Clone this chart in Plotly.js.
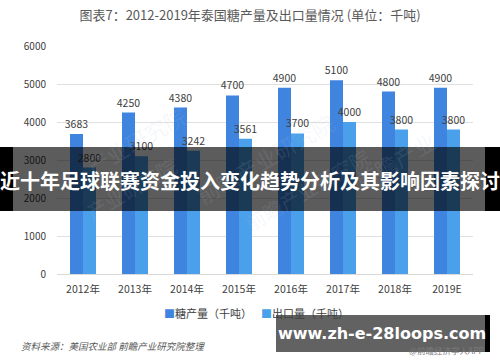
<!DOCTYPE html>
<html><head><meta charset="utf-8">
<script src="https://cdn.plot.ly/plotly-3.0.1.min.js"></script>
<style>html,body{margin:0;padding:0;background:#fff;}#chart{width:500px;height:362px;}</style>
</head><body><div id="chart"></div>
<script>
const categories = ["2012年","2013年","2014年","2015年","2016年","2017年","2018年","2019E"];
const sugarOutput = [3683,4250,4380,4700,4900,5100,4800,4900];
const exportVolume = [2800,3100,3242,3561,3700,4000,3800,3800];
const seriesNames = ["糖产量（千吨）","出口量（千吨）"];
const yTicks = [0,1000,2000,3000,4000,5000,6000];
const colors = ['#3f85e0','#4aa0ea'];

const F = '"Noto Sans CJK SC", "Microsoft YaHei", sans-serif';
const traces = [
  {type:'bar', name:seriesNames[0], x:categories, y:sugarOutput, text:sugarOutput.map(String),
   textposition:'outside', constraintext:'none', cliponaxis:false, textfont:{family:F,size:10.5,color:'#404040'},
   marker:{color:colors[0]}},
  {type:'bar', name:seriesNames[1], x:categories, y:exportVolume, text:exportVolume.map(String),
   textposition:'outside', constraintext:'none', cliponaxis:false, textfont:{family:F,size:10.5,color:'#404040'},
   marker:{color:colors[1]}}
];
const px = v => (v-57)/416, py = v => (274-v)/228;
const wm = (x,y,t,s)=>({xref:'paper',yref:'paper',x:x,y:y,text:t,showarrow:false,textangle:-30,
  font:{family:F,size:s,color:'rgba(180,195,215,0.13)'}});
const layout = {
  width:500, height:362, paper_bgcolor:'#fff', plot_bgcolor:'#fff',
  margin:{l:57,r:27,t:46,b:88},
  font:{family:F,color:'#595959'},
  title:{text:'图表7：2012-2019年泰国糖产量及出口量情况 (单位：千吨)', x:0.5, xanchor:'center', y:0.958, yanchor:'middle',
         font:{family:F,size:13,color:'#595959'}},
  barmode:'group', bargap:0.5, bargroupgap:0,
  xaxis:{type:'category', showgrid:false, showline:true, linecolor:'#d9d9d9', linewidth:1, ticks:'',
         tickfont:{family:F,size:10.5,color:'#404040'}, ticklabelstandoff:5},
  yaxis:{range:[0,6000], tickvals:yTicks, showgrid:true, gridcolor:'#e0e0e0', zeroline:false, showline:false,
         tickfont:{family:F,size:10,color:'#404040'}, ticklabelstandoff:10},
  showlegend:false,
  shapes:[
    {type:'rect',xref:'paper',yref:'paper',x0:px(0),x1:px(500),y0:py(211),y1:py(147),
     fillcolor:'rgba(0,0,0,0.64)',line:{width:0},layer:'above'},
    {type:'rect',xref:'paper',yref:'paper',x0:px(0),x1:px(13),y0:py(211),y1:py(147),
     fillcolor:'#000',line:{width:0},layer:'above'},
    {type:'rect',xref:'paper',yref:'paper',x0:px(485),x1:px(500),y0:py(211),y1:py(147),
     fillcolor:'#000',line:{width:0},layer:'above'},
    {type:'rect',xref:'paper',yref:'paper',x0:px(276),x1:px(485),y0:py(352),y1:py(315),
     fillcolor:'rgba(70,70,70,0.85)',line:{width:0},layer:'above'},
    {type:'rect',xref:'paper',yref:'paper',x0:px(485),x1:px(490),y0:py(352),y1:py(315),
     fillcolor:'#000',line:{width:0},layer:'above'}
  ],
  annotations:[
    wm(0.05,0.78,'产业研究院',22), wm(0.5,0.75,'前瞻产业研究院',22), wm(0.93,0.5,'前瞻产业',22),
    wm(0.05,0.2,'产业研究院',20), wm(0.6,0.15,'前瞻产业研究院',20),
    {xref:'paper',yref:'paper',x:px(162),y:py(313),xanchor:'left',yanchor:'middle',showarrow:false,
     text:'<span style="color:'+colors[0]+'">■</span>'+seriesNames[0],font:{family:F,size:11,color:'#404040'}},
    {xref:'paper',yref:'paper',x:px(259),y:py(313),xanchor:'left',yanchor:'middle',showarrow:false,
     text:'<span style="color:'+colors[1]+'">■</span>'+seriesNames[1],font:{family:F,size:11,color:'#404040'}},
    {xref:'paper',yref:'paper',x:px(19),y:py(346),xanchor:'left',yanchor:'middle',showarrow:false,
     text:'<i>资料来源：美国农业部 前瞻产业研究院整理</i>',font:{family:F,size:9.5,color:'#595959'}},
    {xref:'paper',yref:'paper',x:px(486),y:py(350),xanchor:'right',yanchor:'middle',showarrow:false,
     text:'@前瞻经济学人APP',font:{family:F,size:8.5,color:'#7a7a7a'}},
    {xref:'paper',yref:'paper',x:px(250),y:py(180),xanchor:'center',yanchor:'middle',showarrow:false,
     text:'<b>近十年足球联赛资金投入变化趋势分析及其影响因素探讨</b>',font:{family:F,size:20,color:'#ffffff'}},
    {xref:'paper',yref:'paper',x:px(382),y:py(333),xanchor:'center',yanchor:'middle',showarrow:false,
     text:'<b>www.zh-e-28loops.com</b>',font:{family:'"DejaVu Sans", sans-serif',size:16,color:'#ffffff'}}
  ]
};
Plotly.newPlot('chart', traces, layout, {displayModeBar:false, staticPlot:true});
</script></body></html>
